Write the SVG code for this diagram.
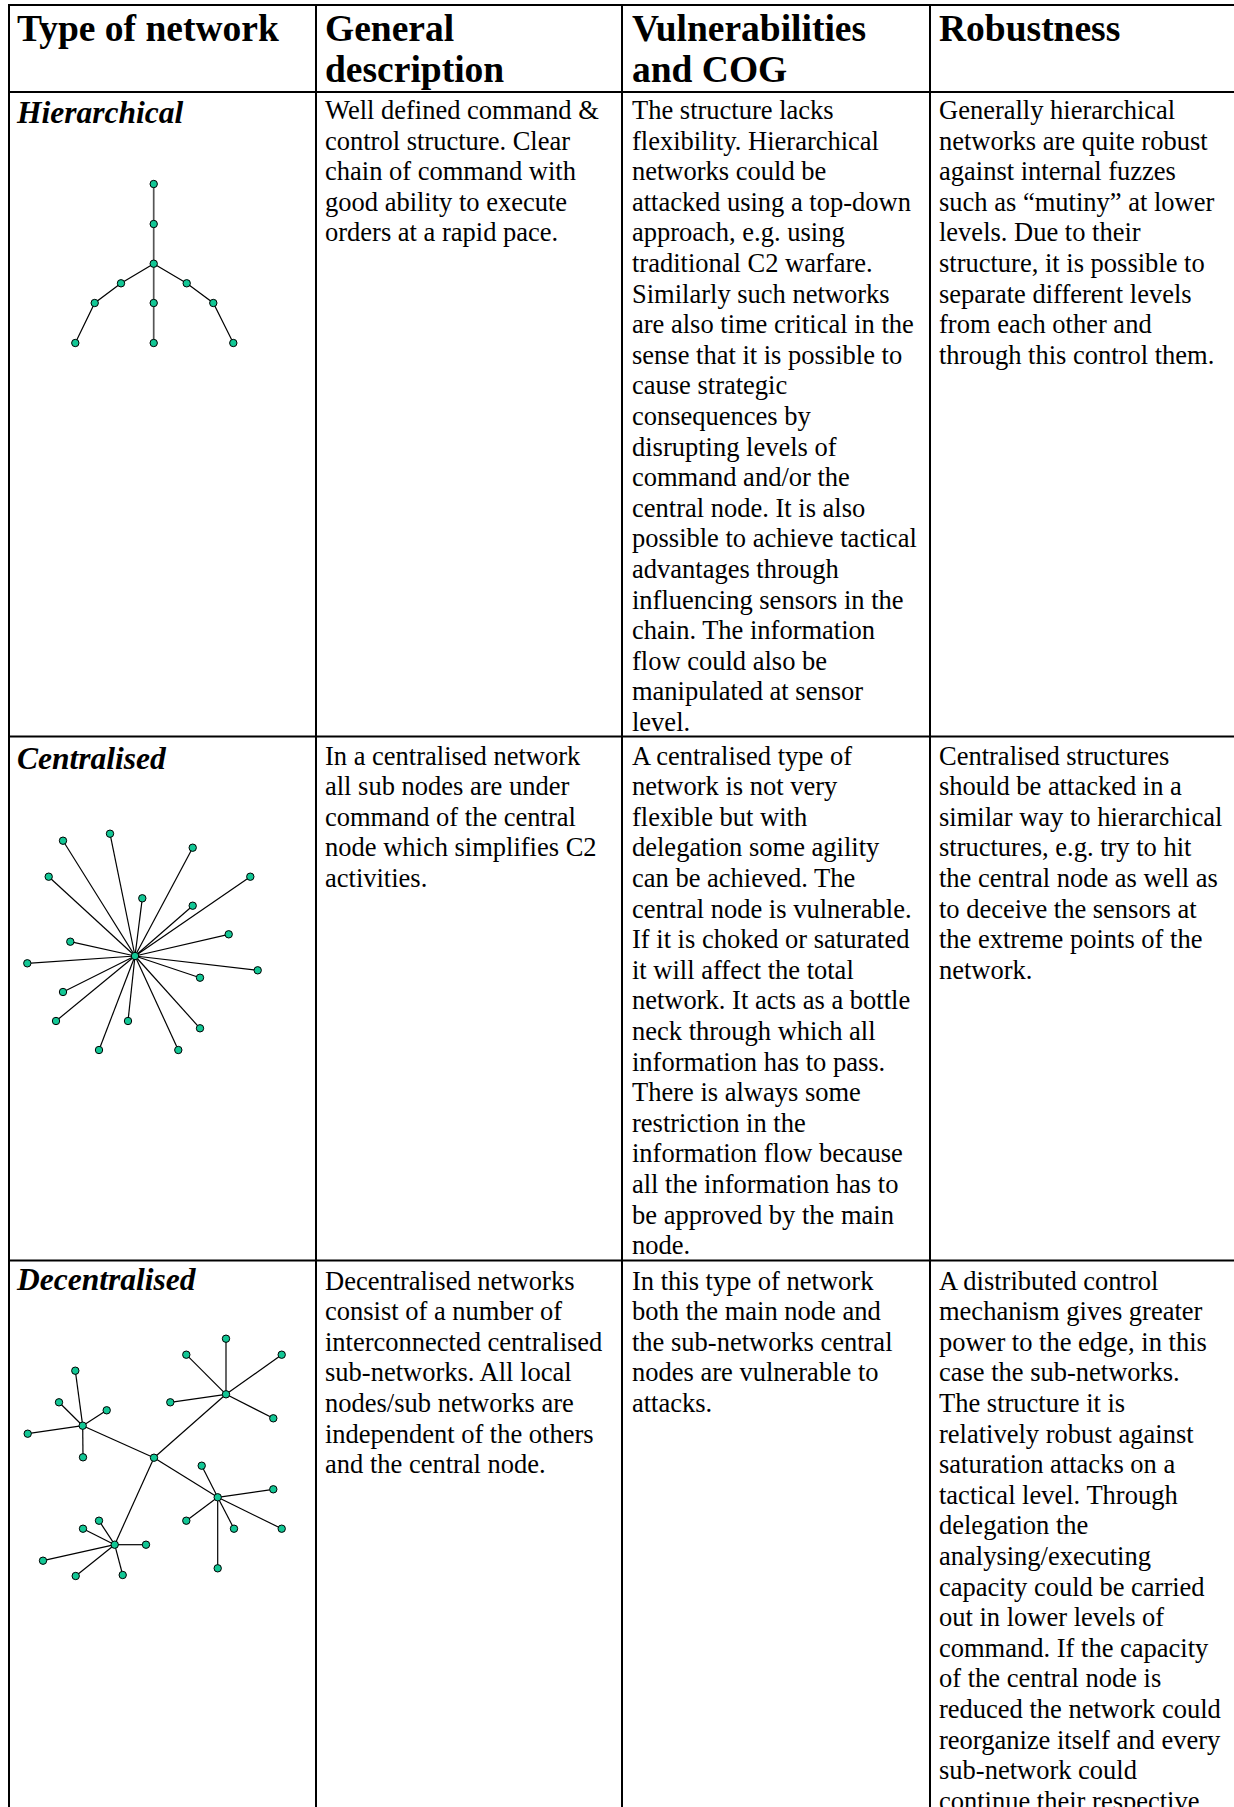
<svg xmlns="http://www.w3.org/2000/svg" width="1234" height="1807" viewBox="0 0 1234 1807">
<style>
.grid{stroke:#000;stroke-width:2;fill:none}
.hd{font-family:"Liberation Serif","Times New Roman",serif;font-weight:bold;font-size:37.5px;fill:#000}
.lb{font-family:"Liberation Serif","Times New Roman",serif;font-weight:bold;font-style:italic;font-size:31.5px;fill:#000}
.tx{font-family:"Liberation Serif","Times New Roman",serif;font-size:26.5px;fill:#000}
.e{stroke:#000;stroke-width:1.2;fill:none}
.v{stroke:#555;stroke-width:1.7;fill:none}
.n{fill:#12c795;stroke:#000;stroke-width:1}
</style>
<rect width="1234" height="1807" fill="#fff"/>
<g id="table-grid" class="grid">
<line x1="9" y1="5" x2="1234" y2="5"/>
<line x1="9" y1="92" x2="1234" y2="92"/>
<line x1="9" y1="736.5" x2="1234" y2="736.5"/>
<line x1="9" y1="1260.5" x2="1234" y2="1260.5"/>
<line x1="9" y1="4" x2="9" y2="1807"/>
<line x1="316" y1="5" x2="316" y2="1807"/>
<line x1="622" y1="5" x2="622" y2="1807"/>
<line x1="930" y1="5" x2="930" y2="1807"/>
</g>
<g id="header">
<text class="hd" x="17" y="41">Type of network</text>
<text class="hd" x="325" y="41">General<tspan x="325" dy="41">description</tspan></text>
<text class="hd" x="632" y="41">Vulnerabilities<tspan x="632" dy="41">and COG</tspan></text>
<text class="hd" x="939" y="41">Robustness</text>
</g>
<g id="row-hierarchical">
<text class="lb" x="17" y="123">Hierarchical</text>
<text class="tx" x="325" y="119">Well defined command &amp;<tspan x="325" dy="30.6">control structure. Clear</tspan><tspan x="325" dy="30.6">chain of command with</tspan><tspan x="325" dy="30.6">good ability to execute</tspan><tspan x="325" dy="30.6">orders at a rapid pace.</tspan></text>
<text class="tx" x="632" y="119">The structure lacks<tspan x="632" dy="30.6">flexibility. Hierarchical</tspan><tspan x="632" dy="30.6">networks could be</tspan><tspan x="632" dy="30.6">attacked using a top-down</tspan><tspan x="632" dy="30.6">approach, e.g. using</tspan><tspan x="632" dy="30.6">traditional C2 warfare.</tspan><tspan x="632" dy="30.6">Similarly such networks</tspan><tspan x="632" dy="30.6">are also time critical in the</tspan><tspan x="632" dy="30.6">sense that it is possible to</tspan><tspan x="632" dy="30.6">cause strategic</tspan><tspan x="632" dy="30.6">consequences by</tspan><tspan x="632" dy="30.6">disrupting levels of</tspan><tspan x="632" dy="30.6">command and/or the</tspan><tspan x="632" dy="30.6">central node. It is also</tspan><tspan x="632" dy="30.6">possible to achieve tactical</tspan><tspan x="632" dy="30.6">advantages through</tspan><tspan x="632" dy="30.6">influencing sensors in the</tspan><tspan x="632" dy="30.6">chain. The information</tspan><tspan x="632" dy="30.6">flow could also be</tspan><tspan x="632" dy="30.6">manipulated at sensor</tspan><tspan x="632" dy="30.6">level.</tspan></text>
<text class="tx" x="939" y="119">Generally hierarchical<tspan x="939" dy="30.6">networks are quite robust</tspan><tspan x="939" dy="30.6">against internal fuzzes</tspan><tspan x="939" dy="30.6">such as “mutiny” at lower</tspan><tspan x="939" dy="30.6">levels. Due to their</tspan><tspan x="939" dy="30.6">structure, it is possible to</tspan><tspan x="939" dy="30.6">separate different levels</tspan><tspan x="939" dy="30.6">from each other and</tspan><tspan x="939" dy="30.6">through this control them.</tspan></text>
</g>
<g id="graph-hierarchical">
<g id="h-connectors">
<line class="v" x1="153.7" y1="184" x2="153.7" y2="343"/>
<polyline class="e" points="153.7,263.7 121,283.3 94.7,303 75.3,343"/>
<polyline class="e" points="153.7,263.7 186.7,283.3 213.3,303 233.3,343"/>
</g>
<g id="h-nodes">
<circle id="h1" class="n" cx="153.7" cy="184" r="3.7"/>
<circle id="h2" class="n" cx="153.7" cy="224" r="3.7"/>
<circle id="h3" class="n" cx="153.7" cy="263.7" r="3.7"/>
<circle id="h4" class="n" cx="121" cy="283.3" r="3.7"/>
<circle id="h5" class="n" cx="186.7" cy="283.3" r="3.7"/>
<circle id="h6" class="n" cx="94.7" cy="303" r="3.7"/>
<circle id="h7" class="n" cx="213.3" cy="303" r="3.7"/>
<circle id="h8" class="n" cx="153.7" cy="303" r="3.7"/>
<circle id="h9" class="n" cx="75.3" cy="343" r="3.7"/>
<circle id="h10" class="n" cx="153.7" cy="343" r="3.7"/>
<circle id="h11" class="n" cx="233.3" cy="343" r="3.7"/>
</g>
</g>
<g id="row-centralised">
<text class="lb" x="17" y="768.5">Centralised</text>
<text class="tx" x="325" y="764.5">In a centralised network<tspan x="325" dy="30.6">all sub nodes are under</tspan><tspan x="325" dy="30.6">command of the central</tspan><tspan x="325" dy="30.6">node which simplifies C2</tspan><tspan x="325" dy="30.6">activities.</tspan></text>
<text class="tx" x="632" y="764.5">A centralised type of<tspan x="632" dy="30.6">network is not very</tspan><tspan x="632" dy="30.6">flexible but with</tspan><tspan x="632" dy="30.6">delegation some agility</tspan><tspan x="632" dy="30.6">can be achieved. The</tspan><tspan x="632" dy="30.6">central node is vulnerable.</tspan><tspan x="632" dy="30.6">If it is choked or saturated</tspan><tspan x="632" dy="30.6">it will affect the total</tspan><tspan x="632" dy="30.6">network. It acts as a bottle</tspan><tspan x="632" dy="30.6">neck through which all</tspan><tspan x="632" dy="30.6">information has to pass.</tspan><tspan x="632" dy="30.6">There is always some</tspan><tspan x="632" dy="30.6">restriction in the</tspan><tspan x="632" dy="30.6">information flow because</tspan><tspan x="632" dy="30.6">all the information has to</tspan><tspan x="632" dy="30.6">be approved by the main</tspan><tspan x="632" dy="30.6">node.</tspan></text>
<text class="tx" x="939" y="764.5">Centralised structures<tspan x="939" dy="30.6">should be attacked in a</tspan><tspan x="939" dy="30.6">similar way to hierarchical</tspan><tspan x="939" dy="30.6">structures, e.g. try to hit</tspan><tspan x="939" dy="30.6">the central node as well as</tspan><tspan x="939" dy="30.6">to deceive the sensors at</tspan><tspan x="939" dy="30.6">the extreme points of the</tspan><tspan x="939" dy="30.6">network.</tspan></text>
</g>
<g id="graph-centralised">
<g id="c-connectors" class="e">
<line x1="135" y1="956" x2="63" y2="840.7"/>
<line x1="135" y1="956" x2="110" y2="833.7"/>
<line x1="135" y1="956" x2="192.7" y2="847.7"/>
<line x1="135" y1="956" x2="48.7" y2="876.7"/>
<line x1="135" y1="956" x2="250.3" y2="876.7"/>
<line x1="135" y1="956" x2="142.3" y2="898.3"/>
<line x1="135" y1="956" x2="192.7" y2="905.7"/>
<line x1="135" y1="956" x2="70.3" y2="941.7"/>
<line x1="135" y1="956" x2="228.7" y2="934.3"/>
<line x1="135" y1="956" x2="27.3" y2="963.3"/>
<line x1="135" y1="956" x2="257.7" y2="970.3"/>
<line x1="135" y1="956" x2="200" y2="977.7"/>
<line x1="135" y1="956" x2="63" y2="992"/>
<line x1="135" y1="956" x2="56" y2="1021"/>
<line x1="135" y1="956" x2="128" y2="1021"/>
<line x1="135" y1="956" x2="200" y2="1028.3"/>
<line x1="135" y1="956" x2="99" y2="1050"/>
<line x1="135" y1="956" x2="178.3" y2="1050"/>
</g>
<g id="c-nodes">
<circle id="c0" class="n" cx="135" cy="956" r="3.7"/>
<circle id="c1" class="n" cx="63" cy="840.7" r="3.7"/>
<circle id="c2" class="n" cx="110" cy="833.7" r="3.7"/>
<circle id="c3" class="n" cx="192.7" cy="847.7" r="3.7"/>
<circle id="c4" class="n" cx="48.7" cy="876.7" r="3.7"/>
<circle id="c5" class="n" cx="250.3" cy="876.7" r="3.7"/>
<circle id="c6" class="n" cx="142.3" cy="898.3" r="3.7"/>
<circle id="c7" class="n" cx="192.7" cy="905.7" r="3.7"/>
<circle id="c8" class="n" cx="70.3" cy="941.7" r="3.7"/>
<circle id="c9" class="n" cx="228.7" cy="934.3" r="3.7"/>
<circle id="c10" class="n" cx="27.3" cy="963.3" r="3.7"/>
<circle id="c11" class="n" cx="257.7" cy="970.3" r="3.7"/>
<circle id="c12" class="n" cx="200" cy="977.7" r="3.7"/>
<circle id="c13" class="n" cx="63" cy="992" r="3.7"/>
<circle id="c14" class="n" cx="56" cy="1021" r="3.7"/>
<circle id="c15" class="n" cx="128" cy="1021" r="3.7"/>
<circle id="c16" class="n" cx="200" cy="1028.3" r="3.7"/>
<circle id="c17" class="n" cx="99" cy="1050" r="3.7"/>
<circle id="c18" class="n" cx="178.3" cy="1050" r="3.7"/>
</g>
</g>
<g id="row-decentralised">
<text class="lb" x="17" y="1290">Decentralised</text>
<text class="tx" x="325" y="1289.5">Decentralised networks<tspan x="325" dy="30.6">consist of a number of</tspan><tspan x="325" dy="30.6">interconnected centralised</tspan><tspan x="325" dy="30.6">sub-networks. All local</tspan><tspan x="325" dy="30.6">nodes/sub networks are</tspan><tspan x="325" dy="30.6">independent of the others</tspan><tspan x="325" dy="30.6">and the central node.</tspan></text>
<text class="tx" x="632" y="1289.5">In this type of network<tspan x="632" dy="30.6">both the main node and</tspan><tspan x="632" dy="30.6">the sub-networks central</tspan><tspan x="632" dy="30.6">nodes are vulnerable to</tspan><tspan x="632" dy="30.6">attacks.</tspan></text>
<text class="tx" x="939" y="1289.5">A distributed control<tspan x="939" dy="30.6">mechanism gives greater</tspan><tspan x="939" dy="30.6">power to the edge, in this</tspan><tspan x="939" dy="30.6">case the sub-networks.</tspan><tspan x="939" dy="30.6">The structure it is</tspan><tspan x="939" dy="30.6">relatively robust against</tspan><tspan x="939" dy="30.6">saturation attacks on a</tspan><tspan x="939" dy="30.6">tactical level. Through</tspan><tspan x="939" dy="30.6">delegation the</tspan><tspan x="939" dy="30.6">analysing/executing</tspan><tspan x="939" dy="30.6">capacity could be carried</tspan><tspan x="939" dy="30.6">out in lower levels of</tspan><tspan x="939" dy="30.6">command. If the capacity</tspan><tspan x="939" dy="30.6">of the central node is</tspan><tspan x="939" dy="30.6">reduced the network could</tspan><tspan x="939" dy="30.6">reorganize itself and every</tspan><tspan x="939" dy="30.6">sub-network could</tspan><tspan x="939" dy="30.6">continue their respective</tspan></text>
</g>
<g id="graph-decentralised">
<g id="d-connectors" class="e">
<line x1="154" y1="1457.7" x2="82.7" y2="1425.7"/>
<line x1="154" y1="1457.7" x2="226" y2="1394.3"/>
<line x1="154" y1="1457.7" x2="217.7" y2="1497.3"/>
<line x1="154" y1="1457.7" x2="114.7" y2="1544.7"/>
<line x1="82.7" y1="1425.7" x2="75.3" y2="1370.7"/>
<line x1="82.7" y1="1425.7" x2="59" y2="1402.3"/>
<line x1="82.7" y1="1425.7" x2="106.7" y2="1410.3"/>
<line x1="82.7" y1="1425.7" x2="27.7" y2="1433.7"/>
<line x1="82.7" y1="1425.7" x2="83" y2="1457.3"/>
<line x1="226" y1="1394.3" x2="226" y2="1338.7"/>
<line x1="226" y1="1394.3" x2="186.3" y2="1354.7"/>
<line x1="226" y1="1394.3" x2="281.7" y2="1354.7"/>
<line x1="226" y1="1394.3" x2="170.3" y2="1402.3"/>
<line x1="226" y1="1394.3" x2="273.3" y2="1418.3"/>
<line x1="217.7" y1="1497.3" x2="201.7" y2="1465.7"/>
<line x1="217.7" y1="1497.3" x2="273.3" y2="1489.3"/>
<line x1="217.7" y1="1497.3" x2="186.3" y2="1520.7"/>
<line x1="217.7" y1="1497.3" x2="234" y2="1528.7"/>
<line x1="217.7" y1="1497.3" x2="281.7" y2="1528.7"/>
<line x1="217.7" y1="1497.3" x2="217.7" y2="1568.3"/>
<line x1="114.7" y1="1544.7" x2="83" y2="1528.7"/>
<line x1="114.7" y1="1544.7" x2="99" y2="1520.7"/>
<line x1="114.7" y1="1544.7" x2="146" y2="1544.7"/>
<line x1="114.7" y1="1544.7" x2="43" y2="1560.7"/>
<line x1="114.7" y1="1544.7" x2="75.7" y2="1576"/>
<line x1="114.7" y1="1544.7" x2="122.7" y2="1575"/>
</g>
<g id="d-nodes">
<circle id="d0" class="n" cx="154" cy="1457.7" r="3.7"/>
<circle id="dA" class="n" cx="82.7" cy="1425.7" r="3.7"/>
<circle id="dA1" class="n" cx="75.3" cy="1370.7" r="3.7"/>
<circle id="dA2" class="n" cx="59" cy="1402.3" r="3.7"/>
<circle id="dA3" class="n" cx="106.7" cy="1410.3" r="3.7"/>
<circle id="dA4" class="n" cx="27.7" cy="1433.7" r="3.7"/>
<circle id="dA5" class="n" cx="83" cy="1457.3" r="3.7"/>
<circle id="dB" class="n" cx="226" cy="1394.3" r="3.7"/>
<circle id="dB1" class="n" cx="226" cy="1338.7" r="3.7"/>
<circle id="dB2" class="n" cx="186.3" cy="1354.7" r="3.7"/>
<circle id="dB3" class="n" cx="281.7" cy="1354.7" r="3.7"/>
<circle id="dB4" class="n" cx="170.3" cy="1402.3" r="3.7"/>
<circle id="dB5" class="n" cx="273.3" cy="1418.3" r="3.7"/>
<circle id="dC" class="n" cx="217.7" cy="1497.3" r="3.7"/>
<circle id="dC1" class="n" cx="201.7" cy="1465.7" r="3.7"/>
<circle id="dC2" class="n" cx="273.3" cy="1489.3" r="3.7"/>
<circle id="dC3" class="n" cx="186.3" cy="1520.7" r="3.7"/>
<circle id="dC4" class="n" cx="234" cy="1528.7" r="3.7"/>
<circle id="dC5" class="n" cx="281.7" cy="1528.7" r="3.7"/>
<circle id="dC6" class="n" cx="217.7" cy="1568.3" r="3.7"/>
<circle id="dD" class="n" cx="114.7" cy="1544.7" r="3.7"/>
<circle id="dD1" class="n" cx="83" cy="1528.7" r="3.7"/>
<circle id="dD2" class="n" cx="99" cy="1520.7" r="3.7"/>
<circle id="dD3" class="n" cx="146" cy="1544.7" r="3.7"/>
<circle id="dD4" class="n" cx="43" cy="1560.7" r="3.7"/>
<circle id="dD5" class="n" cx="75.7" cy="1576" r="3.7"/>
<circle id="dD6" class="n" cx="122.7" cy="1575" r="3.7"/>
</g>
</g>
</svg>
